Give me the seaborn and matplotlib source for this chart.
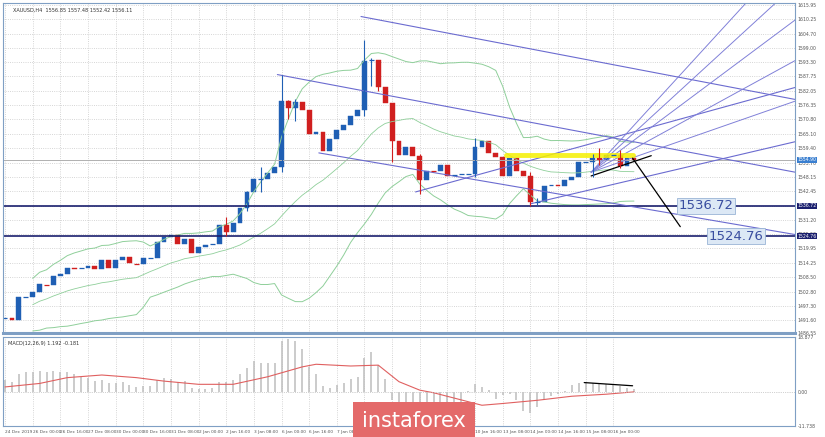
import numpy as np
import pandas as pd
import matplotlib
matplotlib.use('Agg')
import matplotlib.pyplot as plt
import seaborn as sns

# XAUUSD H4 closes (open = previous close)
first_open = 1492.3
closes = [1492.4, 1491.8, 1500.9, 1500.9, 1502.6, 1505.9, 1505.5, 1509.2, 1510.0, 1512.3,
          1511.8, 1512.0, 1513.1, 1511.8, 1515.4, 1512.0, 1515.4, 1516.5, 1514.1, 1513.9,
          1516.2, 1516.2, 1522.5, 1524.5, 1525.1, 1521.8, 1523.8, 1518.2, 1520.5, 1521.4,
          1521.8, 1529.2, 1526.4, 1530.1, 1536.0, 1542.2, 1547.3, 1547.3, 1549.6, 1552.1,
          1578.0, 1575.2, 1577.6, 1574.4, 1565.0, 1566.0, 1558.4, 1563.0, 1566.7, 1568.5,
          1572.1, 1574.4, 1593.7, 1594.1, 1583.7, 1577.1, 1562.3, 1556.7, 1560.1, 1556.2,
          1547.0, 1550.6, 1550.3, 1552.9, 1548.6, 1549.0, 1549.3, 1549.3, 1560.1, 1562.3,
          1557.5, 1555.8, 1548.6, 1555.4, 1550.3, 1548.6, 1538.2, 1538.4, 1544.7, 1545.1,
          1544.5, 1547.0, 1548.2, 1553.9, 1553.9, 1555.6, 1554.9, 1556.7, 1556.7, 1552.5,
          1555.6, 1554.9]
# notable wicks: (candle index, high, low)
wicks = [(32, 1532.4, 1525.0), (35, 1542.5, 1534.6), (37, 1552.1, 1542.0), (40, 1588.5, 1550.0),
         (41, 1578.5, 1571.0), (42, 1578.8, 1570.0), (52, 1602.2, 1572.0), (53, 1595.0, 1583.9),
         (54, 1594.4, 1582.0), (56, 1566.0, 1554.0), (60, 1557.0, 1541.4), (68, 1563.5, 1548.0),
         (76, 1550.0, 1536.7), (77, 1540.0, 1536.9), (85, 1557.0, 1548.1), (86, 1559.5, 1553.0),
         (89, 1558.6, 1551.5)]

macd_hist = [4.0, 3.5, 6.1, 6.7, 6.9, 7.2, 6.7, 7.2, 6.7, 6.7,
             6.1, 5.2, 4.8, 3.7, 4.0, 2.9, 3.2, 3.5, 2.3, 1.7,
             2.0, 2.0, 4.0, 4.8, 4.3, 3.5, 3.7, 1.2, 0.9, 0.9,
             1.2, 3.5, 3.5, 4.0, 6.1, 8.1, 10.6, 10.0, 9.8, 10.0,
             17.6, 18.2, 17.5, 14.6, 8.6, 6.1, 2.0, 1.4, 2.3, 3.2,
             4.6, 5.2, 11.7, 13.6, 9.2, 4.6, -2.9, -4.6, -4.6, -4.6,
             -4.6, -4.0, -4.0, -4.0, -4.0, -4.0, -4.0, 0.3, 2.6, 1.7,
             0.8, -2.3, -1.2, -0.8, -2.9, -6.6, -7.2, -5.2, -2.9, -1.5,
             -0.8, 0.3, 2.2, 3.2, 3.2, 3.1, 2.9, 2.6, 2.3, 2.1,
             1.4, 1.0]
signal_idx = [0, 5, 9, 14, 19, 23, 28, 33, 38, 43, 45, 50, 54, 57, 60, 62, 69, 72, 77, 82, 87, 91]
signal_val = [1.7, 2.9, 4.9, 5.8, 4.9, 3.7, 2.6, 2.6, 5.2, 8.6, 9.5, 8.9, 9.2, 3.5, 0.6, -0.3,
              -4.6, -4.0, -2.9, -1.5, -0.8, 0.0]

price_ticks = [1615.95, 1610.25, 1604.70, 1599.00, 1593.30, 1587.75, 1582.05, 1576.35, 1570.80,
               1565.10, 1559.40, 1553.70, 1548.15, 1542.45, 1536.84, 1531.20, 1525.50, 1519.95,
               1514.25, 1508.50, 1502.80, 1497.30, 1491.60, 1486.55]
time_labels = ['24 Dec 2019', '26 Dec 00:00', '26 Dec 16:00', '27 Dec 08:00', '30 Dec 00:00',
               '30 Dec 16:00', '31 Dec 08:00', '2 Jan 00:00', '2 Jan 16:00', '3 Jan 08:00',
               '6 Jan 00:00', '6 Jan 16:00', '7 Jan 08:00', '8 Jan 00:00', '8 Jan 16:00',
               '9 Jan 08:00', '10 Jan 00:00', '10 Jan 16:00', '13 Jan 08:00', '14 Jan 00:00',
               '14 Jan 16:00', '15 Jan 08:00', '16 Jan 00:00']

# drawn objects: ((x0, p0), (x1, p1))
channel_lines = [((51.5, 1611.4), (114.3, 1578.7)),
                 ((39.4, 1588.5), (114.3, 1550.0)),
                 ((45.4, 1557.6), (114.3, 1525.4)),
                 ((59.4, 1542.2), (114.3, 1583.4)),
                 ((76.0, 1537.5), (114.3, 1562.0))]
fan_origin = (84.8, 1550.0)
fan_ends = [(107.3, 1617.0), (111.6, 1617.0), (114.3, 1610.0), (114.3, 1594.0), (114.3, 1578.0)]
levels = [1536.72, 1524.76]
level_label_x = [97.4, 101.8]
current_price = 1554.9

closes = np.array(closes)
opens = np.concatenate([[first_open], closes[:-1]])
idx = np.arange(len(closes))
df = pd.DataFrame({'n': idx, 'close': closes})
mid = df['close'].rolling(20, min_periods=5).mean()
sd = df['close'].rolling(20, min_periods=5).std()
df['up'] = mid + 2 * sd
df['lo'] = mid - 2 * sd
df['mid'] = mid

sns.set_style('white')
fig = plt.figure(figsize=(8.25, 4.37), dpi=100)
ax = fig.add_axes([3 / 825, 1 - 333 / 437, 792 / 825, 330 / 437])
axm = fig.add_axes([3 / 825, 1 - 426 / 437, 792 / 825, 89 / 437])
edge = '#7f9fc4'
xlim = (-0.3, 114.3)

# price pane
for col, lw in (('up', 0.7), ('lo', 0.7), ('mid', 0.6)):
    sns.lineplot(data=df, x='n', y=col, ax=ax, color='#8fcf9a', linewidth=lw, legend=False)

ax.axhline(current_price, color='#b0b0b0', linewidth=0.7)
for lv in levels:
    ax.axhline(lv, color='#1a1f6e', linewidth=1.2)
for (x0, p0), (x1, p1) in channel_lines:
    ax.plot([x0, x1], [p0, p1], color='#6b6bd0', linewidth=0.8)
for xe, pe in fan_ends:
    ax.plot([fan_origin[0], xe], [fan_origin[1], pe], color='#8080d8', linewidth=0.7)
ax.plot([72.5, 90.8], [1556.9, 1556.9], color='#f5f000', linewidth=3.5, alpha=0.85)
ax.plot([84.8, 93.5], [1548.5, 1556.5], color='black', linewidth=0.9)
ax.plot([90.8, 97.7], [1555.5, 1528.5], color='black', linewidth=0.9)

for n, hi, lo in wicks:
    ax.vlines(n, lo, hi, color='#1f5fb4' if closes[n] >= opens[n] else '#d01f1f', linewidth=0.8)
for n in idx:
    up = closes[n] >= opens[n]
    c = '#1f5fb4' if up else '#d01f1f'
    lo_b, hi_b = min(opens[n], closes[n]), max(opens[n], closes[n])
    if hi_b - lo_b < 0.5:
        ax.hlines(closes[n], n - 0.35, n + 0.35, color=c, linewidth=0.9)
    else:
        ax.bar(n, hi_b - lo_b, bottom=lo_b, width=0.7, color=c, edgecolor=c, linewidth=0.3)

for lv, lx in zip(levels, level_label_x):
    ax.text(lx, lv, '%.2f' % lv, fontsize=9.5, color='#3a4ea0', va='center', ha='left',
            bbox=dict(boxstyle='square,pad=0.1', fc='#dce8f5', ec='#9ab4d6', lw=0.6))
# price markers on the right scale
for lv, fc in ((levels[0], '#1a1f6e'), (levels[1], '#1a1f6e'), (current_price, '#3a7fd0')):
    ax.text(1.003, lv, '%.2f' % lv, transform=ax.get_yaxis_transform(), fontsize=3.3,
            color='white', va='center', ha='left',
            bbox=dict(boxstyle='square,pad=0.15', fc=fc, ec='none'))
ax.text(0.012, 0.985, 'XAUUSD,H4  1556.85 1557.48 1552.42 1556.11', transform=ax.transAxes,
        fontsize=3.6, color='#333333', va='top')

# MACD pane
axm.vlines(idx, 0, macd_hist, color='#bdbdbd', linewidth=1.1)
sns.lineplot(x=signal_idx, y=signal_val, ax=axm, color='#e06060', linewidth=0.8)
axm.plot([83.8, 90.8], [3.2, 2.1], color='black', linewidth=0.9)
axm.axhline(0, color='#d0d0d0', linestyle=':', linewidth=0.6)
axm.text(0.006, 0.96, 'MACD(12,26,9) 1.192 -0.181', transform=axm.transAxes,
         fontsize=3.6, color='#333333', va='top')

for a in (ax, axm):
    a.set_xlim(*xlim)
    a.set_xlabel('')
    a.set_ylabel('')
    for s in a.spines.values():
        s.set_color(edge)
    a.yaxis.tick_right()
    a.tick_params(axis='both', labelsize=3.3, colors='#555555', length=0, pad=2)
    a.grid(True, color='#c8c8c8', linestyle=':', linewidth=0.6)
ax.spines['bottom'].set_linewidth(2.2)

ax.set_ylim(1486.55, 1615.95 + 2 * 0.3921)
ax.set_yticks(price_ticks)
ax.set_yticklabels(['%.2f' % t for t in price_ticks])
ax.set_xticks(np.arange(0, len(closes), 4))
ax.set_xticklabels([])

axm.set_ylim(-11.738, 18.877)
axm.set_yticks([18.877, 0.0, -11.738])
axm.set_yticklabels(['18.877', '0.00', '-11.738'])
axm.set_xticks(np.arange(0, len(closes), 4))
axm.set_xticklabels(time_labels)
axm.tick_params(axis='x', pad=3, labelsize=3.1)
for t in axm.get_xticklabels():
    t.set_ha('left')

fig.text(414 / 825, 1 - 421 / 437, 'instaforex', fontsize=15, color='white', ha='center',
         va='center', bbox=dict(boxstyle='square,pad=0.45', fc='#e46a6a', ec='none'))

fig.savefig('out.png', dpi=100, facecolor='white')
